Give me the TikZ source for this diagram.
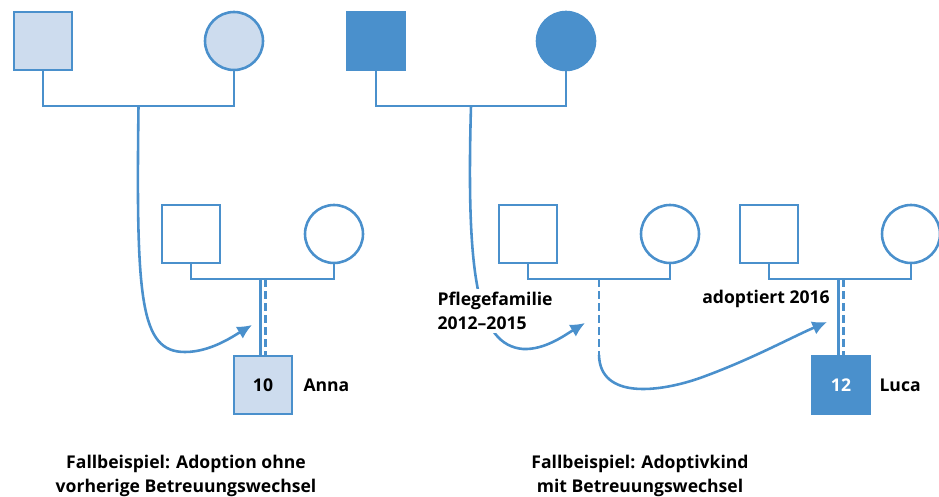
\documentclass[tikz,border=0pt]{standalone}
\usepackage{fontspec}
\setmainfont{Open Sans}
\usetikzlibrary{arrows.meta}
\definecolor{blaulinie}{RGB}{74,144,204}
\definecolor{blauhell}{RGB}{205,220,238}
\tikzset{
    strich/.style={draw=blaulinie, line width=2.2pt},
    gestrichelt/.style={strich, dash pattern=on 2.4mm off 1.2mm},
    pfeil/.style={strich, -{Latex[length=4.4mm, width=4.2mm]}},
    mann/.style={strich, minimum size=17.4mm, inner sep=0pt, font=\bfseries\fontsize{15}{20}\selectfont},
    frau/.style={strich, circle, minimum size=17.4mm, inner sep=0pt},
    beschriftung/.style={inner sep=0pt, font=\bfseries\fontsize{15}{20.4}\selectfont}
}
\begin{document}
\begin{tikzpicture}[x=0.3mm, y=-0.3mm]
    \useasboundingbox (0, 0) rectangle (939, 497);

    % Herkunftsfamilien
    \node[mann, fill=blauhell] (vaterA) at (43, 41) {};
    \node[frau, fill=blauhell] (mutterA) at (234, 41) {};
    \node[mann, fill=blaulinie] (vaterC) at (376, 41) {};
    \node[frau, fill=blaulinie] (mutterC) at (566, 41) {};
    \coordinate (mA) at (138.5, 106);
    \coordinate (mC) at (471, 106);
    \draw[strich] (vaterA) |- (mA) -| (mutterA);
    \draw[strich] (vaterC) |- (mC) -| (mutterC);

    % Aufnehmende Familien
    \node[mann] (vaterB) at (191, 234) {};
    \node[frau] (mutterB) at (334, 234) {};
    \node[mann] (vaterD) at (528, 234) {};
    \node[frau] (mutterD) at (670, 234) {};
    \node[mann] (vaterE) at (769, 234) {};
    \node[frau] (mutterE) at (911, 234) {};
    \coordinate (mB) at (263, 279);
    \coordinate (mD) at (599, 279);
    \coordinate (mE) at (841, 279);
    \draw[strich] (vaterB) |- (mB) -| (mutterB);
    \draw[strich] (vaterD) |- (mD) -| (mutterD);
    \draw[strich] (vaterE) |- (mE) -| (mutterE);

    % Kinder
    \node[mann, fill=blauhell] (kindB) at (263, 385) {10};
    \node[mann, fill=blaulinie, text=white] (kindE) at (841, 385) {12};
    \draw[strich] ([xshift=-0.8mm]mB) -- ([xshift=-0.8mm]kindB.north);
    \draw[gestrichelt] ([xshift=0.8mm]mB) -- ([xshift=0.8mm]kindB.north);
    \draw[strich] ([xshift=-0.8mm]mE) -- ([xshift=-0.8mm]kindE.north);
    \draw[gestrichelt] ([xshift=0.8mm]mE) -- ([xshift=0.8mm]kindE.north);
    \coordinate (knickD) at (599, 355);
    \draw[gestrichelt] (mD) -- (knickD);

    % Wechsel
    \coordinate (zielB) at (252, 325);
    \coordinate (zielD) at (585, 323);
    \coordinate (zielE) at (827, 322);
    \draw[pfeil] (mA) .. controls (136, 300) and (140, 352) .. (185, 352)
        .. controls (210, 352) and (232, 337) .. (zielB);
    \draw[pfeil] (mC) .. controls (466, 280) and (478, 345) .. (523, 349)
        .. controls (545, 350) and (565, 335) .. (zielD);
    \draw[pfeil] (knickD) .. controls (600, 400) and (660, 392) .. (700, 378)
        .. controls (750, 360) and (790, 338) .. (zielE);

    % Texte
    \node[beschriftung, anchor=west] (nameB) at ([xshift=3mm]kindB.east) {Anna};
    \node[beschriftung, anchor=west] (nameE) at ([xshift=2.4mm]kindE.east) {Luca};
    \node[beschriftung, fill=white, inner sep=1mm, align=left, anchor=west] (pflege) at (434, 311) {Pflegefamilie\\2012–2015};
    \node[beschriftung, anchor=east] (adoptiert) at (830, 299) {adoptiert 2016};
    \node[beschriftung, align=center] (fallA) at (186, 476) {Fallbeispiel: Adoption ohne\\vorherige Betreuungswechsel};
    \node[beschriftung, align=center] (fallD) at (640, 476) {Fallbeispiel: Adoptivkind\\mit Betreuungswechsel};
\end{tikzpicture}
\end{document}
